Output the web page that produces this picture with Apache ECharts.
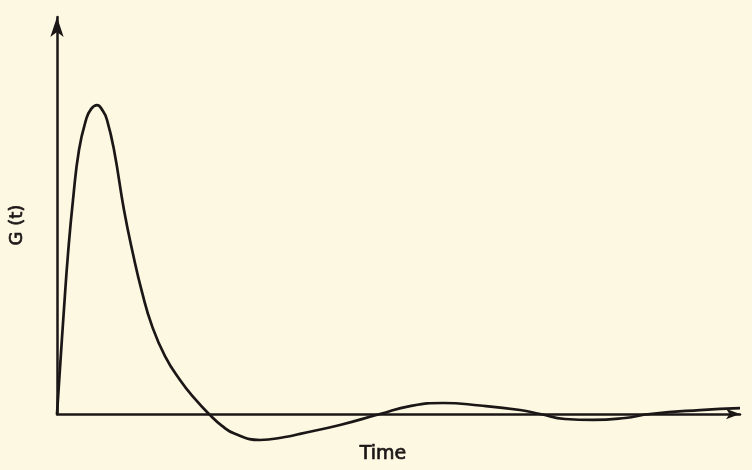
<!DOCTYPE html>
<html>
<head>
<meta charset="utf-8">
<script src="https://cdn.jsdelivr.net/npm/echarts@6/dist/echarts.min.js"></script>
<style>
  html, body { margin: 0; padding: 0; background: #fcf8e2; }
  #chart { width: 752px; height: 470px; }
</style>
</head>
<body>
<div id="chart"></div>
<script>
// Response function G(t): sharp initial peak, then a damped oscillation about zero
const timeValues = [0, 0.044, 0.102, 0.161, 0.234, 0.322, 0.425, 0.498, 0.586, 0.673, 0.732, 0.835, 0.981, 1.113, 1.245, 1.391, 1.581, 1.801, 2.020, 2.225, 2.416, 2.606, 2.972, 3.338, 3.558, 4.143, 4.729, 5.168, 5.652, 6.193, 6.779, 7.072, 7.438, 7.848, 8.316, 8.682, 9.414, 10];
const gValues    = [0, 11.6, 26.4, 40.3, 53.9, 66.5, 74.1, 76.8, 77.8, 76.3, 74.1, 66.5, 51.4, 40.3, 30.7, 22.2, 14.6, 8.56, 3.78, 0, -3.0, -5.0, -6.55, -5.8, -5.0, -2.77, 0, 2.0, 2.77, 2.14, 1.0, 0, -1.26, -1.5, -1.0, 0, 1.0, 1.5];
const xAxisTitle = 'Time';
const yAxisTitle = 'G (t)';

const ink = '#1c1717';
const chart = echarts.init(document.getElementById('chart'), null, { renderer: 'canvas' });

chart.setOption({
  backgroundColor: '#fcf8e2',
  animation: false,
  grid: { left: 57, right: 12, top: 17, bottom: 56 },
  xAxis: {
    type: 'value', min: 0, max: 10,
    axisLine: { onZero: false, lineStyle: { color: ink, width: 2.5 }, symbol: ['none', 'arrow'], symbolSize: [8, 14] },
    axisTick: { show: false }, axisLabel: { show: false }, splitLine: { show: false }
  },
  yAxis: {
    type: 'value', min: 0, max: 100,
    axisLine: { show: true, lineStyle: { color: ink, width: 2.5 }, symbol: ['none', 'arrow'], symbolSize: [10, 20] },
    axisTick: { show: false }, axisLabel: { show: false }, splitLine: { show: false }
  },
  series: [{
    type: 'line',
    data: timeValues.map((t, i) => [t, gValues[i]]),
    smooth: 0.5,
    clip: false,
    showSymbol: false,
    lineStyle: { color: ink, width: 2.7 }
  }],
  graphic: [
    { type: 'text', x: 383, y: 454, style: { text: xAxisTitle, font: '19px "DejaVu Sans"', fill: ink, stroke: ink, lineWidth: 0.7, align: 'center', verticalAlign: 'middle' } },
    { type: 'text', x: 17, y: 225, rotation: Math.PI / 2, style: { text: yAxisTitle, font: '18px "DejaVu Sans"', fill: ink, stroke: ink, lineWidth: 0.7, align: 'center', verticalAlign: 'middle' } }
  ]
});
</script>
</body>
</html>
